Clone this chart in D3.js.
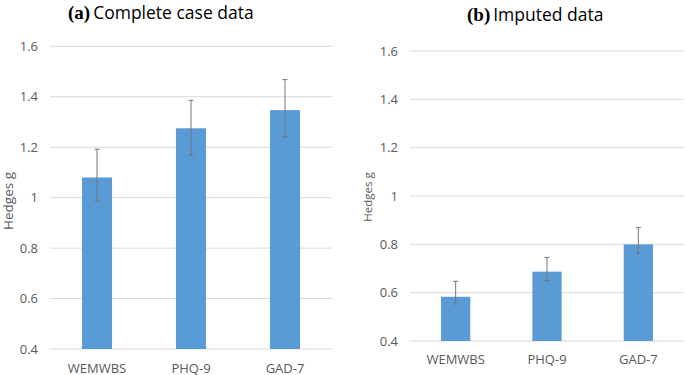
<!DOCTYPE html>
<html>
<head>
<meta charset="utf-8">
<script src="https://cdn.jsdelivr.net/npm/d3@7"></script>
<style>
  body { margin: 0; background: #fff; }
  svg text { font-family: "Open Sans", sans-serif; }
</style>
</head>
<body>
<svg id="chart" width="685" height="375"></svg>
<script>
// data
var categories = ['WEMWBS', 'PHQ-9', 'GAD-7'];
var yTicks = [0.4, 0.6, 0.8, 1, 1.2, 1.4, 1.6];

var completeG = [1.08, 1.275, 1.347];
var completeLow = [0.985, 1.168, 1.241];
var completeHigh = [1.192, 1.386, 1.468];

var imputedG = [0.583, 0.687, 0.80];
var imputedLow = [0.553, 0.650, 0.763];
var imputedHigh = [0.647, 0.746, 0.870];

var svg = d3.select('#chart');

function panel(opt) {
    var x = d3.scaleBand().range([opt.left, opt.right]).domain(categories).paddingInner(0.68).paddingOuter(0.34);
    var y = d3.scaleLinear().range([opt.bottom, opt.top]).domain([0.4, 1.6]);
    var g = svg.append('g');

    // gridlines
    g.selectAll('line.grid').data(yTicks).enter().append('line')
        .attr('class', 'grid')
        .attr('x1', opt.left).attr('x2', opt.right)
        .attr('y1', d => y(d)).attr('y2', d => y(d))
        .attr('stroke', '#d9d9d9').attr('stroke-width', 1);

    // y axis labels
    var yAxis = g.append('g').attr('transform', `translate(${opt.left - 12},0)`)
        .call(d3.axisLeft(y).tickValues(yTicks).tickSize(0).tickPadding(0).tickFormat(d3.format('')));
    yAxis.select('.domain').remove();
    yAxis.selectAll('text').attr('fill', '#595959').attr('font-size', 13)
        .attr('font-family', '"Open Sans", sans-serif');

    // x axis labels
    var xAxis = g.append('g').attr('transform', `translate(0,${opt.bottom})`)
        .call(d3.axisBottom(x).tickSize(0));
    xAxis.select('.domain').remove();
    xAxis.selectAll('text').attr('fill', '#595959').attr('font-size', 13)
        .attr('font-family', '"Open Sans", sans-serif')
        .attr('y', opt.xlabDy).attr('dy', 0);

    var rows = categories.map((c, i) => ({ c: c, v: opt.vals[i], lo: opt.low[i], hi: opt.high[i] }));

    // bars
    g.selectAll('rect.bar').data(rows).enter().append('rect')
        .attr('class', 'bar')
        .attr('x', d => x(d.c))
        .attr('width', x.bandwidth())
        .attr('y', d => y(d.v))
        .attr('height', d => y(0.4) - y(d.v))
        .attr('fill', '#5b9bd5');

    // error bars
    var cx = d => x(d.c) + x.bandwidth() / 2;
    var eb = g.selectAll('g.err').data(rows).enter().append('g').attr('class', 'err')
        .attr('stroke', '#767676').attr('stroke-width', 1);
    eb.append('line')
        .attr('x1', cx).attr('x2', cx)
        .attr('y1', d => y(d.lo)).attr('y2', d => y(d.hi));
    eb.append('line')
        .attr('x1', d => cx(d) - 2.5).attr('x2', d => cx(d) + 2.5)
        .attr('y1', d => y(d.hi)).attr('y2', d => y(d.hi));
    eb.append('line')
        .attr('x1', d => cx(d) - 2.5).attr('x2', d => cx(d) + 2.5)
        .attr('y1', d => y(d.lo)).attr('y2', d => y(d.lo));

    // y title
    g.append('text')
        .attr('transform', `translate(${opt.ylabX},${opt.ylabY}) rotate(-90)`)
        .attr('text-anchor', 'middle').attr('dominant-baseline', 'central')
        .attr('font-size', opt.ylabSize).attr('fill', '#595959')
        .text('Hedges g');

    // title
    var t = g.append('text').attr('x', opt.titleX).attr('y', opt.titleY).attr('fill', '#000');
    t.append('tspan').attr('font-family', '"Liberation Serif", "Times New Roman", serif')
        .attr('font-weight', 'bold').attr('font-size', 19).text(opt.tag);
    t.append('tspan').attr('font-size', 17.5).attr('dx', 3).text(opt.title);
}

panel({ left: 50, right: 332, top: 46.3, bottom: 349, ylabX: 8, ylabY: 201, ylabSize: 13.5, xlabDy: 23.5,
    vals: completeG, low: completeLow, high: completeHigh,
    tag: '(a)', title: 'Complete case data', titleX: 68, titleY: 19 });
panel({ left: 410, right: 684, top: 51, bottom: 341, ylabX: 367, ylabY: 197, ylabSize: 11.5, xlabDy: 23,
    vals: imputedG, low: imputedLow, high: imputedHigh,
    tag: '(b)', title: 'Imputed data', titleX: 467, titleY: 21 });
</script>
</body>
</html>
